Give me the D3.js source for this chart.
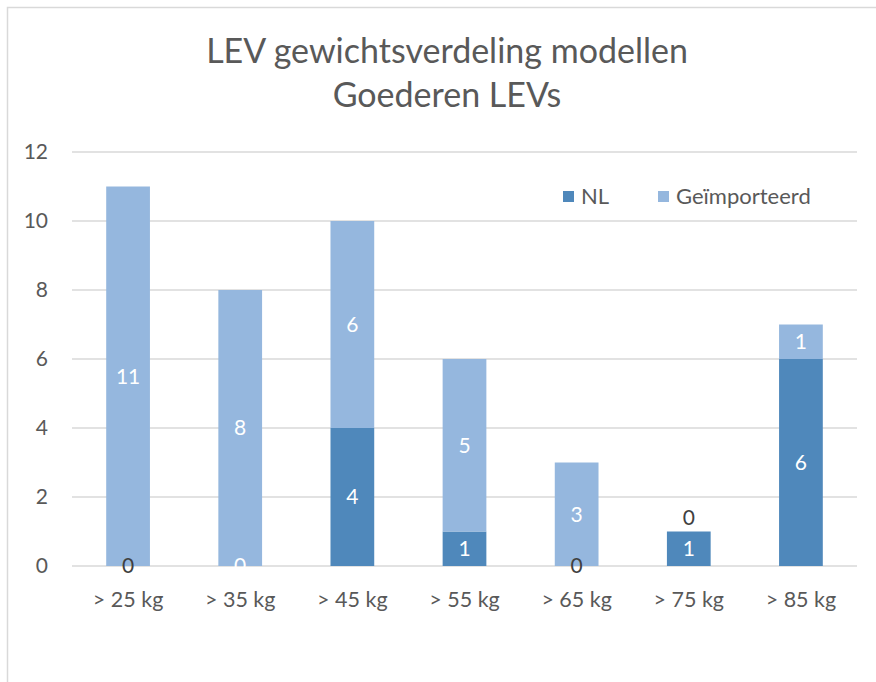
<!DOCTYPE html>
<html>
<head>
<meta charset="utf-8">
<script src="https://cdn.jsdelivr.net/npm/d3@7"></script>
<style>
  body { margin: 0; background: #fff; }
  text { font-family: Lato, "Open Sans", sans-serif; }
</style>
</head>
<body>
<div id="content"></div>
<script>
const svgWidth = 876, svgHeight = 682;

const categories = ["> 25 kg", "> 35 kg", "> 45 kg", "> 55 kg", "> 65 kg", "> 75 kg", "> 85 kg"];
const nl = [0, 0, 4, 1, 0, 1, 6];
const imported = [11, 8, 6, 5, 3, 0, 1];
const seriesNames = ["NL", "Geïmporteerd"];
const yTicks = [0, 2, 4, 6, 8, 10, 12];
const titleLines = ["LEV gewichtsverdeling modellen", "Goederen LEVs"];

const colors = ["#4f88bb", "#95b7de"];
const textGray = "#595959";

const svg = d3.select("#content").append("svg")
  .attr("width", svgWidth)
  .attr("height", svgHeight);

// chart frame (only top and left edges fall inside the picture)
svg.append("path")
  .attr("d", "M7.5,690V7.5H890")
  .attr("fill", "none")
  .attr("stroke", "#d9d9d9")
  .attr("stroke-width", 1.5);

const x = d3.scaleBand()
  .domain(categories)
  .range([72, 857])
  .paddingInner(0.61)
  .paddingOuter(0.305);

const y = d3.scaleLinear()
  .domain([0, 12])
  .range([566, 152]);

// gridlines
svg.append("g").selectAll("line")
  .data(yTicks).enter().append("line")
  .attr("x1", 72).attr("x2", 857)
  .attr("y1", d => y(d)).attr("y2", d => y(d))
  .attr("stroke", "#d9d9d9")
  .attr("stroke-width", 1.5);

// y labels
svg.append("g").selectAll("text")
  .data(yTicks).enter().append("text")
  .attr("x", 48)
  .attr("y", d => y(d))
  .attr("dy", "0.35em")
  .attr("text-anchor", "end")
  .attr("fill", textGray)
  .attr("font-size", 21)
  .text(d => d);

// x labels
svg.append("g").selectAll("text")
  .data(categories).enter().append("text")
  .attr("x", d => x(d) + x.bandwidth() / 2)
  .attr("y", 607)
  .attr("text-anchor", "middle")
  .attr("fill", textGray)
  .attr("font-size", 21.5)
  .text(d => d);

const rows = categories.map((c, i) => ({ cat: c, NL: nl[i], "Geïmporteerd": imported[i] }));
const stack = d3.stack().keys(seriesNames)(rows);

const layers = svg.append("g").selectAll("g")
  .data(stack).enter().append("g")
  .attr("fill", (d, i) => colors[i]);

layers.selectAll("rect")
  .data(d => d).enter().append("rect")
  .attr("x", d => x(d.data.cat))
  .attr("width", x.bandwidth())
  .attr("y", d => y(d[1]))
  .attr("height", d => y(d[0]) - y(d[1]));

// value labels
const whiteZero = new Set(["> 35 kg"]);
stack.forEach((layer, li) => {
  svg.append("g").selectAll("text")
    .data(layer).enter().append("text")
    .attr("x", d => x(d.data.cat) + x.bandwidth() / 2)
    .attr("y", d => {
      const v = d[1] - d[0];
      if (v === 0 && li === 1) return y(d[1]) - 14;
      return y((d[0] + d[1]) / 2);
    })
    .attr("dy", "0.35em")
    .attr("text-anchor", "middle")
    .attr("font-size", 21)
    .attr("fill", d => {
      const v = d[1] - d[0];
      if (v === 0) return whiteZero.has(d.data.cat) ? "#ffffff" : "#404040";
      return "#ffffff";
    })
    .text(d => d[1] - d[0]);
});

// title
svg.append("g").selectAll("text")
  .data(titleLines).enter().append("text")
  .attr("x", 447)
  .attr("y", (d, i) => 63 + i * 44)
  .attr("text-anchor", "middle")
  .attr("fill", textGray)
  .attr("font-size", 34)
  .text(d => d);

// legend
const legendX = [563, 658];
const legend = svg.append("g").selectAll("g")
  .data(seriesNames).enter().append("g")
  .attr("transform", (d, i) => `translate(${legendX[i]},191)`);
legend.append("rect")
  .attr("width", 11).attr("height", 11)
  .attr("fill", (d, i) => colors[i]);
legend.append("text")
  .attr("x", 18)
  .attr("y", 5.5)
  .attr("dy", "0.35em")
  .attr("fill", textGray)
  .attr("font-size", 22)
  .text(d => d);
</script>
</body>
</html>
